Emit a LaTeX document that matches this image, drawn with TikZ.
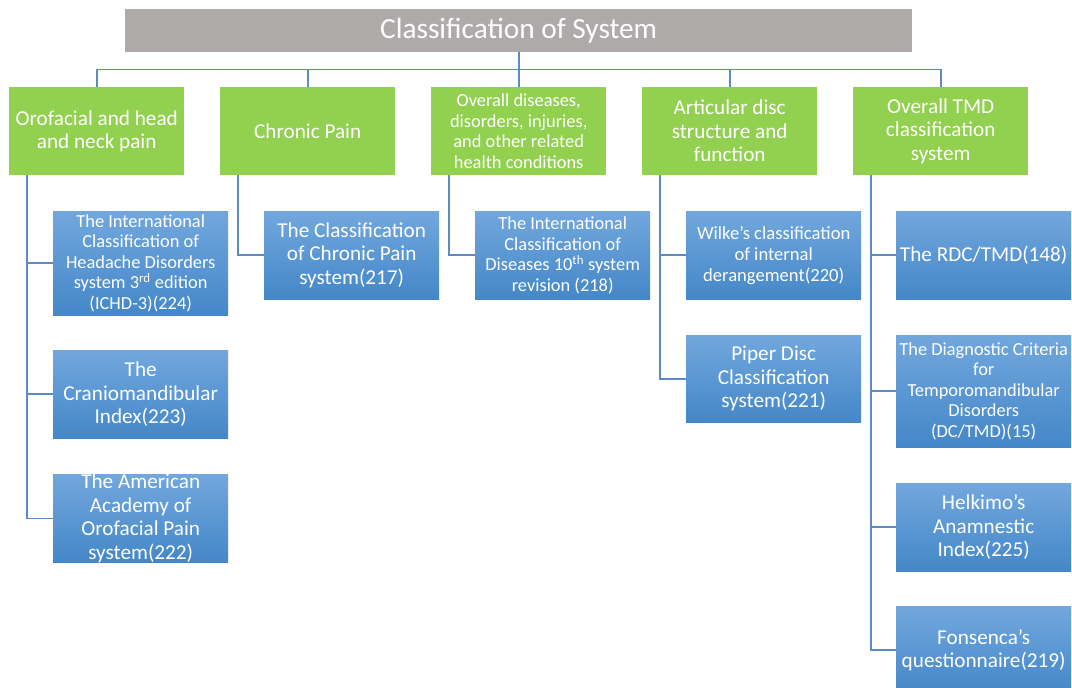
\documentclass[tikz,border=0pt]{standalone}
\usepackage{fontspec}
\setmainfont{Carlito}
\definecolor{titlegray}{HTML}{AEAAAA}
\definecolor{leafgreen}{HTML}{92D050}
\definecolor{bluetop}{HTML}{72A7DD}
\definecolor{bluemid}{HTML}{5598D8}
\definecolor{bluebot}{HTML}{4487C8}
\definecolor{linkblue}{HTML}{5A8BC5}
\tikzset{
  titlebox/.style={fill=titlegray, text=white, anchor=north west, inner sep=0pt,
    minimum width=787pt, minimum height=43pt, font=\fontsize{29.3}{32}\selectfont},
  catbox/.style={fill=leafgreen, text=white, anchor=north west, inner sep=0pt,
    minimum width=175pt, minimum height=88pt, align=center},
  subbox/.style={top color=bluetop, middle color=bluemid, bottom color=bluebot,
    text=white, anchor=north west, inner sep=0pt, minimum width=175pt, align=center},
  big/.style={font=\fontsize{21.2}{23.5}\selectfont},
  small/.style={font=\fontsize{18.4}{20.5}\selectfont},
  link/.style={draw=linkblue, line width=1.6pt}
}
\begin{document}
\begin{tikzpicture}[x=1pt,y=-1pt]
\clip (0,0) rectangle (1072,688);
\fill[white] (0,0) rectangle (1072,688);
\coordinate (bus) at (0,69.5);

\node[titlebox] (T) at (125,9) {Classification of System};

\node[catbox,big] (g1) at (9,87) {Orofacial and head\\and neck pain};
\node[catbox,big] (g2) at (220,87) {Chronic Pain};
\node[catbox,small] (g3) at (431,87) {Overall diseases,\\disorders, injuries,\\and other related\\health conditions};
\node[catbox,big] (g4) at (642,87) {Articular disc\\structure and\\function};
\node[catbox,big] (g5) at (853,87) {Overall TMD\\classification\\system};

\node[subbox,small,minimum height=104pt] (c11) at (53,211) {The International\\Classification of\\Headache Disorders\\system 3\textsuperscript{rd} edition\\(ICHD-3)(224)};
\node[subbox,big,minimum height=88pt] (c12) at (53,350) {The\\Craniomandibular\\Index(223)};
\node[subbox,big,minimum height=88pt] (c13) at (53,474) {The American\\Academy of\\Orofacial Pain\\system(222)};

\node[subbox,big,minimum height=88pt] (c21) at (264,211) {The Classification\\of Chronic Pain\\system(217)};

\node[subbox,small,minimum height=88pt] (c31) at (475,211) {The International\\Classification of\\Diseases 10\textsuperscript{th} system\\revision (218)};

\node[subbox,font=\fontsize{18.6}{21}\selectfont,minimum height=88pt] (c41) at (686,211) {Wilke’s classification\\of internal\\derangement(220)};
\node[subbox,big,minimum height=87pt] (c42) at (686,335) {Piper Disc\\Classification\\system(221)};

\node[subbox,big,minimum height=88pt] (c51) at (896,211) {The RDC/TMD(148)};
\node[subbox,small,minimum height=112pt] (c52) at (896,335) {The Diagnostic Criteria\\for\\Temporomandibular\\Disorders\\(DC/TMD)(15)};
\node[subbox,big,minimum height=88pt] (c53) at (896,483) {Helkimo’s\\Anamnestic\\Index(225)};
\node[subbox,big,minimum height=88pt] (c54) at (896,606) {Fonsenca’s\\questionnaire(219)};

% top-level connectors
\foreach \g in {g1,g2,g3,g4,g5}{
  \draw[link] (T.south) -- (T.south |- bus) -| (\g.north);
}
% child connectors
\draw[link] ([xshift=18pt]g1.south west) |- (c11.west);
\draw[link] ([xshift=18pt]g1.south west) |- (c12.west);
\draw[link] ([xshift=18pt]g1.south west) |- (c13.west);
\draw[link] ([xshift=18pt]g2.south west) |- (c21.west);
\draw[link] ([xshift=18pt]g3.south west) |- (c31.west);
\draw[link] ([xshift=18pt]g4.south west) |- (c41.west);
\draw[link] ([xshift=18pt]g4.south west) |- (c42.west);
\draw[link] ([xshift=18pt]g5.south west) |- (c51.west);
\draw[link] ([xshift=18pt]g5.south west) |- (c52.west);
\draw[link] ([xshift=18pt]g5.south west) |- (c53.west);
\draw[link] ([xshift=18pt]g5.south west) |- (c54.west);
\end{tikzpicture}
\end{document}
